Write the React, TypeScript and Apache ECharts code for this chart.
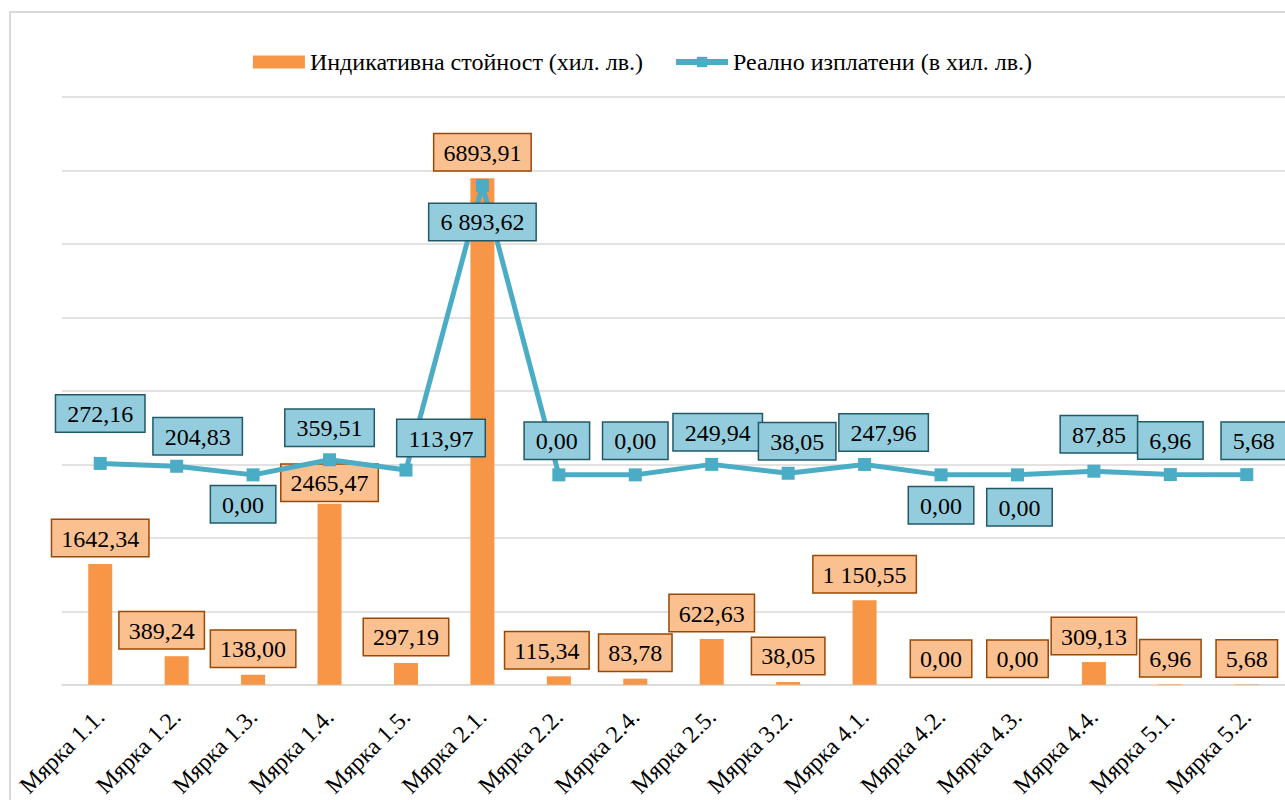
import React, { useEffect, useRef } from "react";
import * as echarts from "echarts";

const categories = [
  "Мярка 1.1.", "Мярка 1.2.", "Мярка 1.3.", "Мярка 1.4.", "Мярка 1.5.",
  "Мярка 2.1.", "Мярка 2.2.", "Мярка 2.4.", "Мярка 2.5.", "Мярка 3.2.",
  "Мярка 4.1.", "Мярка 4.2.", "Мярка 4.3.", "Мярка 4.4.", "Мярка 5.1.", "Мярка 5.2.",
];
const indicative = [
  1642.34, 389.24, 138.0, 2465.47, 297.19, 6893.91, 115.34, 83.78,
  622.63, 38.05, 1150.55, 0.0, 0.0, 309.13, 6.96, 5.68,
];
const paid = [
  272.16, 204.83, 0.0, 359.51, 113.97, 6893.62, 0.0, 0.0,
  249.94, 38.05, 247.96, 0.0, 0.0, 87.85, 6.96, 5.68,
];
// indices whose labels use a space as thousands separator
const barGrouped = [10];
const lineGrouped = [5];

const seriesNames = ["Индикативна стойност (хил. лв.)", "Реално изплатени (в хил. лв.)"];

const fmt = (v: number, grouped: boolean) => {
  const [i, d] = v.toFixed(2).split(".");
  const int = grouped ? i.replace(/\B(?=(\d{3})+(?!\d))/g, " ") : i;
  return int + "," + d;
};

// label layout tweaks (style only)
const barLabelTweak: Record<number, any> = {
  1: { offset: [-15, 0] },
  3: { offset: [0, 5] },
  6: { offset: [-12, 0] },
};
const lineLabelTweak: Record<number, any> = {
  0: { offset: [0, -18] },
  1: { offset: [21, 2] },
  2: { position: "bottom", distance: 5, offset: [-10, 0] },
  3: { offset: [0, 0] },
  4: { offset: [35, 0] },
  5: { position: "bottom", distance: 5, offset: [0, 7] },
  6: { offset: [-2, -2] },
  7: { offset: [0, -2] },
  8: { offset: [6, 0] },
  9: { offset: [9, 0] },
  10: { offset: [19, 0] },
  11: { position: "bottom", distance: 5, offset: [0, 1] },
  12: { position: "bottom", distance: 5, offset: [2, 3] },
  13: { offset: [5, -5] },
  14: { offset: [0, -2] },
  15: { offset: [7, -2] },
};

const FONT = "Liberation Serif";
const FS = 24;

export default function App() {
  const ref = useRef<HTMLDivElement>(null);
  useEffect(() => {
    if (!ref.current) return;
    const chart = echarts.init(ref.current, null, { renderer: "svg" });
    chart.setOption({
      animation: false,
      backgroundColor: "#ffffff",
      textStyle: { fontFamily: FONT },
      graphic: [
        {
          type: "rect",
          shape: { x: 10, y: 12, width: 1300, height: 820 },
          style: { fill: "none", stroke: "#D9D9D9", lineWidth: 2 },
          silent: true,
        },
      ],
      legend: {
        left: "center",
        top: 45,
        itemWidth: 52,
        itemHeight: 13,
        itemGap: 30,
        textStyle: { fontFamily: FONT, fontSize: FS, color: "#000" },
        data: [
          { name: seriesNames[0], icon: "rect" },
          { name: seriesNames[1], lineStyle: { width: 6 } },
        ],
      },
      grid: { left: 62, right: -9, top: 97, bottom: 115, containLabel: false },
      xAxis: {
        type: "category",
        data: categories,
        boundaryGap: true,
        axisLine: { show: true, lineStyle: { color: "#D9D9D9", width: 1.5 } },
        axisTick: { show: false },
        axisLabel: {
          rotate: 45,
          margin: 28,
          interval: 0,
          fontFamily: FONT,
          fontSize: FS,
          color: "#000",
        },
      },
      yAxis: [
        {
          type: "value",
          min: 0,
          max: 8000,
          interval: 1000,
          axisLabel: { show: false },
          axisLine: { show: false },
          axisTick: { show: false },
          splitLine: { lineStyle: { color: "#D9D9D9", width: 1.5 } },
        },
        {
          type: "value",
          min: -5000,
          max: 9000,
          interval: 1000,
          show: false,
          splitLine: { show: false },
        },
      ],
      series: [
        {
          name: seriesNames[0],
          type: "bar",
          barWidth: 24,
          itemStyle: { color: "#F79646" },
          label: {
            show: true,
            position: "top",
            distance: 8,
            fontFamily: FONT,
            fontSize: FS,
            color: "#000",
            backgroundColor: "#FAC090",
            borderColor: "#984807",
            borderWidth: 1.5,
            padding: [5, 9, 4, 9],
            lineHeight: 27,
          },
          data: indicative.map((v, i) => ({
            value: v,
            label: {
              formatter: fmt(v, barGrouped.includes(i)),
              ...(barLabelTweak[i] || {}),
            },
          })),
        },
        {
          name: seriesNames[1],
          type: "line",
          yAxisIndex: 1,
          symbol: "rect",
          symbolSize: 13,
          lineStyle: { color: "#4BACC6", width: 5 },
          itemStyle: { color: "#4BACC6" },
          label: {
            show: true,
            position: "top",
            distance: 7.5,
            fontFamily: FONT,
            fontSize: FS,
            color: "#000",
            backgroundColor: "#93CDDD",
            borderColor: "#215968",
            borderWidth: 1.5,
            padding: [5, 11, 4, 11],
            lineHeight: 27,
          },
          data: paid.map((v, i) => ({
            value: v,
            label: {
              formatter: fmt(v, lineGrouped.includes(i)),
              ...(lineLabelTweak[i] || {}),
            },
          })),
        },
      ],
    });
    return () => chart.dispose();
  }, []);
  return (
    <div
      ref={ref}
      style={{ position: "absolute", left: 0, top: 0, width: 1285, height: 800 }}
    />
  );
}
